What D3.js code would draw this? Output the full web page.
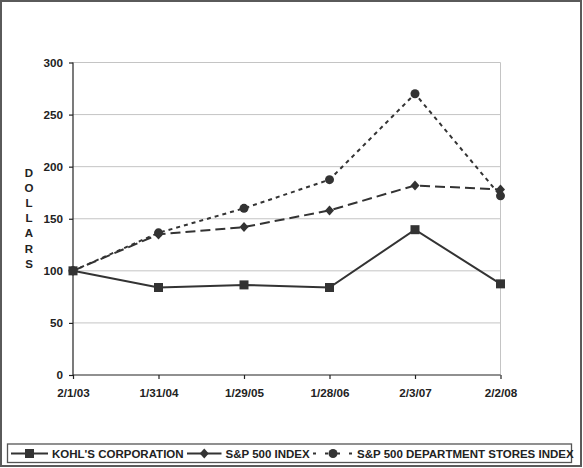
<!DOCTYPE html>
<html>
<head>
<meta charset="utf-8">
<script src="https://cdn.jsdelivr.net/npm/d3@7"></script>
<style>
  body { margin: 0; background: #fff; }
  svg { display: block; font-family: "Liberation Sans", Arial, Helvetica, sans-serif; }
  .axis text { font-size: 11.7px; font-weight: bold; fill: #222; }
</style>
</head>
<body>
<svg id="chart" width="583" height="468"></svg>
<script>
// chart values
const dates = ["2/1/03", "1/31/04", "1/29/05", "1/28/06", "2/3/07", "2/2/08"];
const kohls = [100, 84, 86.5, 84, 139.5, 87.5];
const sp500 = [100, 135, 142, 158, 182, 178];
const deptStores = [100, 136.5, 160, 187.5, 270, 172];
const yTicks = [0, 50, 100, 150, 200, 250, 300];
const axisLabel = "DOLLARS";

const series = [
    {name: "KOHL'S CORPORATION", values: kohls, dash: null, marker: "square", legendDash: null},
    {name: "S&P 500 INDEX", values: sp500, dash: "10,5", marker: "diamond", legendDash: null},
    {name: "S&P 500 DEPARTMENT STORES INDEX", values: deptStores, dash: "4,4", marker: "circle", legendDash: "3,9"}
];

const ink = "#333";
const svg = d3.select("#chart");

// outer frame
svg.append("rect")
    .attr("x", 1).attr("y", 1)
    .attr("width", 580).attr("height", 465)
    .attr("fill", "none").attr("stroke", "#5a5a5a").attr("stroke-width", 2);

const x = d3.scalePoint().domain(dates).range([73, 500.5]);
const y = d3.scaleLinear().domain([0, 300]).range([375, 62.5]);

// grid
svg.append("g")
    .selectAll("line")
    .data(yTicks.filter(d => d > 0))
    .enter().append("line")
    .attr("x1", x.range()[0]).attr("x2", x.range()[1])
    .attr("y1", d => y(d)).attr("y2", d => y(d))
    .attr("stroke", "#c4c4c4").attr("stroke-width", 1);

svg.append("line")
    .attr("x1", x.range()[1]).attr("x2", x.range()[1])
    .attr("y1", y(300)).attr("y2", y(0))
    .attr("stroke", "#c4c4c4").attr("stroke-width", 1);

// axes
const yAxis = svg.append("g")
    .attr("class", "axis")
    .attr("transform", `translate(${x.range()[0]},0)`)
    .call(d3.axisLeft(y).tickValues(yTicks).tickSize(4).tickPadding(6).tickSizeOuter(0));

const xAxis = svg.append("g")
    .attr("class", "axis")
    .attr("transform", `translate(0,${y(0)})`)
    .call(d3.axisBottom(x).tickSize(4).tickPadding(10).tickSizeOuter(0));

svg.selectAll(".axis path, .axis line").attr("stroke", "#222").attr("stroke-width", 1.2);
yAxis.select(".domain").attr("d", `M0,${y(300)}V${y(0)}`);
xAxis.select(".domain").attr("d", `M${x.range()[0]},0H${x.range()[1]}`);

// vertical "DOLLARS" label
svg.append("g")
    .selectAll("text")
    .data(axisLabel.split(""))
    .enter().append("text")
    .attr("x", 29)
    .attr("y", (d, i) => 177 + i * 15.1)
    .attr("text-anchor", "middle")
    .attr("font-size", 11.5)
    .attr("font-weight", "bold")
    .attr("fill", "#222")
    .text(d => d);

function drawMarker(g, kind, cx, cy) {
    if (kind === "square") {
        g.append("rect")
            .attr("x", cx - 4.5).attr("y", cy - 4.5)
            .attr("width", 9).attr("height", 9)
            .attr("fill", ink);
    } else if (kind === "diamond") {
        g.append("path")
            .attr("d", `M${cx},${cy - 5}L${cx + 4.5},${cy}L${cx},${cy + 5}L${cx - 4.5},${cy}Z`)
            .attr("fill", ink);
    } else {
        g.append("circle")
            .attr("cx", cx).attr("cy", cy).attr("r", 4.5)
            .attr("fill", ink);
    }
}

const line = d3.line()
    .x((d, i) => x(dates[i]))
    .y(d => y(d));

series.forEach(s => {
    const g = svg.append("g");
    g.append("path")
        .attr("d", line(s.values))
        .attr("fill", "none")
        .attr("stroke", ink)
        .attr("stroke-width", 2)
        .attr("stroke-dasharray", s.dash);
    s.values.forEach((v, i) => drawMarker(g, s.marker, x(dates[i]), y(v)));
});

// legend
const legend = svg.append("g");
legend.append("rect")
    .attr("x", 7.5).attr("y", 444)
    .attr("width", 564).attr("height", 18.5)
    .attr("fill", "none").attr("stroke", "#555").attr("stroke-width", 1.3);

const ly = 453.5;
// swatch start and text start of each legend entry
const slots = [[11, 52], [187, 225.5], [313, 357]];
series.forEach((s, i) => {
    const [sx, tx] = slots[i];
    const sw = tx - 4 - sx;
    legend.append("line")
        .attr("x1", sx).attr("x2", sx + sw)
        .attr("y1", ly).attr("y2", ly)
        .attr("stroke", ink).attr("stroke-width", 2)
        .attr("stroke-dasharray", s.legendDash);
    drawMarker(legend, s.marker, sx + sw / 2, ly);
    legend.append("text")
        .attr("x", tx)
        .attr("y", ly)
        .attr("dy", "0.36em")
        .attr("font-size", 11.5)
        .attr("font-weight", "bold")
        .attr("fill", "#222")
        .text(s.name);
});
</script>
</body>
</html>
